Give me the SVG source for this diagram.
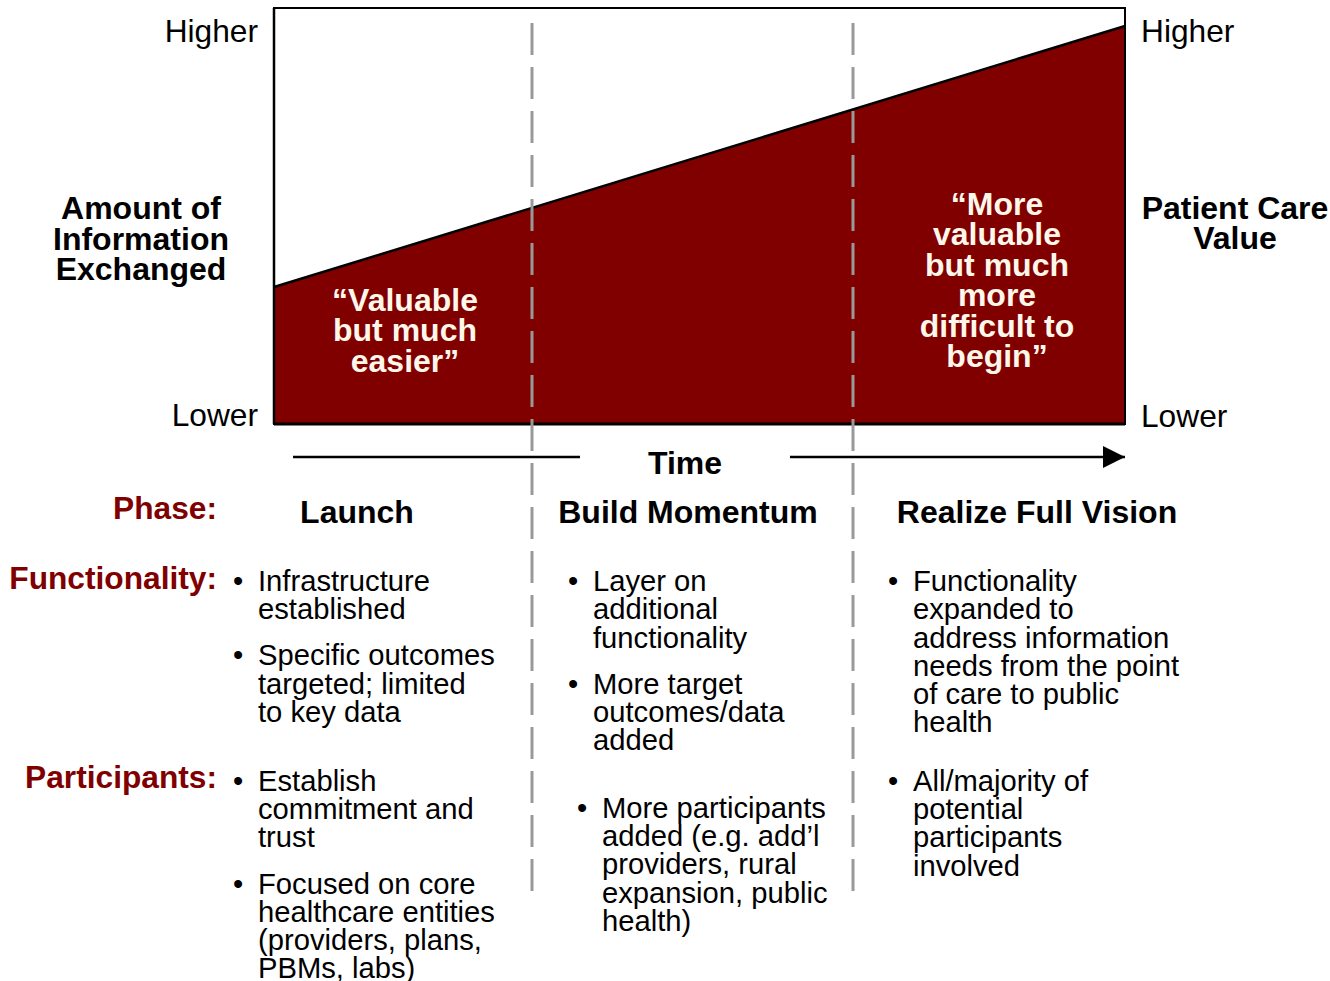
<svg xmlns="http://www.w3.org/2000/svg" width="1330" height="981" viewBox="0 0 1330 981">
  <style>
    text { font-family: "Liberation Sans", Arial, sans-serif; fill: #000; }
    .axis { font-size: 31.7px; }
    .title { font-size: 32px; font-weight: bold; text-anchor: middle; }
    .quote { font-size: 32px; font-weight: bold; text-anchor: middle; fill: #FFF7EA; }
    .label { font-size: 31.7px; font-weight: bold; text-anchor: end; fill: #800000; }
    .phase { font-size: 32px; font-weight: bold; text-anchor: middle; }
    .body { font-size: 29.2px; }
    .divider { stroke: #999999; stroke-width: 3; stroke-dasharray: 32 12; fill: none; }
  </style>
  <defs>
    <marker id="arrowHead" markerWidth="22" markerHeight="22" refX="22" refY="11" orient="auto" markerUnits="userSpaceOnUse">
      <path d="M0,0 L22,11 L0,22 Z" fill="#000"/>
    </marker>
  </defs>

  <rect width="1330" height="981" fill="#ffffff"/>

  <!-- value chart -->
  <g id="chart">
    <rect x="274" y="8" width="851" height="416" fill="#ffffff" stroke="#000" stroke-width="2"/>
    <polygon points="274,287 1125,26 1125,424 274,424" fill="#800000"/>
    <line x1="274" y1="287" x2="1125" y2="26" stroke="#000" stroke-width="2.5"/>
    <line x1="274" y1="424" x2="1125" y2="424" stroke="#000" stroke-width="3"/>
    <line x1="274" y1="8" x2="274" y2="424" stroke="#000" stroke-width="2.5"/>
    <line x1="1125" y1="8" x2="1125" y2="424" stroke="#000" stroke-width="2"/>
  </g>

  <!-- phase dividers and time arrow -->
  <g id="connectors">
    <line class="divider" x1="532" y1="23" x2="532" y2="892"/>
    <line class="divider" x1="853" y1="23" x2="853" y2="892"/>
    <line x1="293" y1="457" x2="580" y2="457" stroke="#000" stroke-width="2.5"/>
    <line x1="790" y1="457" x2="1125" y2="457" stroke="#000" stroke-width="2.5" marker-end="url(#arrowHead)"/>
  </g>

  <!-- axis labels -->
  <g id="left-axis">
    <text class="axis" x="258" y="42" text-anchor="end">Higher</text>
    <text class="axis" x="258" y="426" text-anchor="end">Lower</text>
    <text class="title" x="141" y="219">Amount of</text>
    <text class="title" x="141" y="250">Information</text>
    <text class="title" x="141" y="280">Exchanged</text>
  </g>
  <g id="right-axis">
    <text class="axis" x="1141" y="42">Higher</text>
    <text class="axis" x="1141" y="427">Lower</text>
    <text class="title" x="1235" y="219">Patient Care</text>
    <text class="title" x="1235" y="249">Value</text>
  </g>
  <g id="time-label">
    <text class="title" x="685" y="474">Time</text>
  </g>

  <!-- quotes inside the chart -->
  <g id="quote-easy">
    <text class="quote" x="405" y="311">“Valuable</text>
    <text class="quote" x="405" y="341">but much</text>
    <text class="quote" x="405" y="372">easier”</text>
  </g>
  <g id="quote-hard">
    <text class="quote" x="997" y="215">“More</text>
    <text class="quote" x="997" y="245">valuable</text>
    <text class="quote" x="997" y="276">but much</text>
    <text class="quote" x="997" y="306">more</text>
    <text class="quote" x="997" y="337">difficult to</text>
    <text class="quote" x="997" y="367">begin”</text>
  </g>

  <!-- row labels -->
  <g id="row-labels">
    <text class="label" x="217" y="519">Phase:</text>
    <text class="label" x="217" y="589">Functionality:</text>
    <text class="label" x="217" y="788">Participants:</text>
  </g>

  <!-- Launch column -->
  <g id="phase-launch">
    <text class="phase" x="357" y="523">Launch</text>
    <text class="body" x="233" y="591">•</text>
    <text class="body" x="258" y="591">Infrastructure</text>
    <text class="body" x="258" y="619">established</text>
    <text class="body" x="233" y="665">•</text>
    <text class="body" x="258" y="665">Specific outcomes</text>
    <text class="body" x="258" y="694">targeted; limited</text>
    <text class="body" x="258" y="722">to key data</text>
    <text class="body" x="233" y="791">•</text>
    <text class="body" x="258" y="791">Establish</text>
    <text class="body" x="258" y="819">commitment and</text>
    <text class="body" x="258" y="847">trust</text>
    <text class="body" x="233" y="894">•</text>
    <text class="body" x="258" y="894">Focused on core</text>
    <text class="body" x="258" y="922">healthcare entities</text>
    <text class="body" x="258" y="950">(providers, plans,</text>
    <text class="body" x="258" y="978">PBMs, labs)</text>
  </g>

  <!-- Build Momentum column -->
  <g id="phase-build">
    <text class="phase" x="688" y="523">Build Momentum</text>
    <text class="body" x="568" y="591">•</text>
    <text class="body" x="593" y="591">Layer on</text>
    <text class="body" x="593" y="619">additional</text>
    <text class="body" x="593" y="648">functionality</text>
    <text class="body" x="568" y="694">•</text>
    <text class="body" x="593" y="694">More target</text>
    <text class="body" x="593" y="722">outcomes/data</text>
    <text class="body" x="593" y="750">added</text>
    <text class="body" x="577" y="818">•</text>
    <text class="body" x="602" y="818">More participants</text>
    <text class="body" x="602" y="846">added (e.g. add’l</text>
    <text class="body" x="602" y="874">providers, rural</text>
    <text class="body" x="602" y="903">expansion, public</text>
    <text class="body" x="602" y="931">health)</text>
  </g>

  <!-- Realize Full Vision column -->
  <g id="phase-realize">
    <text class="phase" x="1037" y="523">Realize Full Vision</text>
    <text class="body" x="888" y="591">•</text>
    <text class="body" x="913" y="591">Functionality</text>
    <text class="body" x="913" y="619">expanded to</text>
    <text class="body" x="913" y="648">address information</text>
    <text class="body" x="913" y="676">needs from the point</text>
    <text class="body" x="913" y="704">of care to public</text>
    <text class="body" x="913" y="732">health</text>
    <text class="body" x="888" y="791">•</text>
    <text class="body" x="913" y="791">All/majority of</text>
    <text class="body" x="913" y="819">potential</text>
    <text class="body" x="913" y="847">participants</text>
    <text class="body" x="913" y="876">involved</text>
  </g>
</svg>
